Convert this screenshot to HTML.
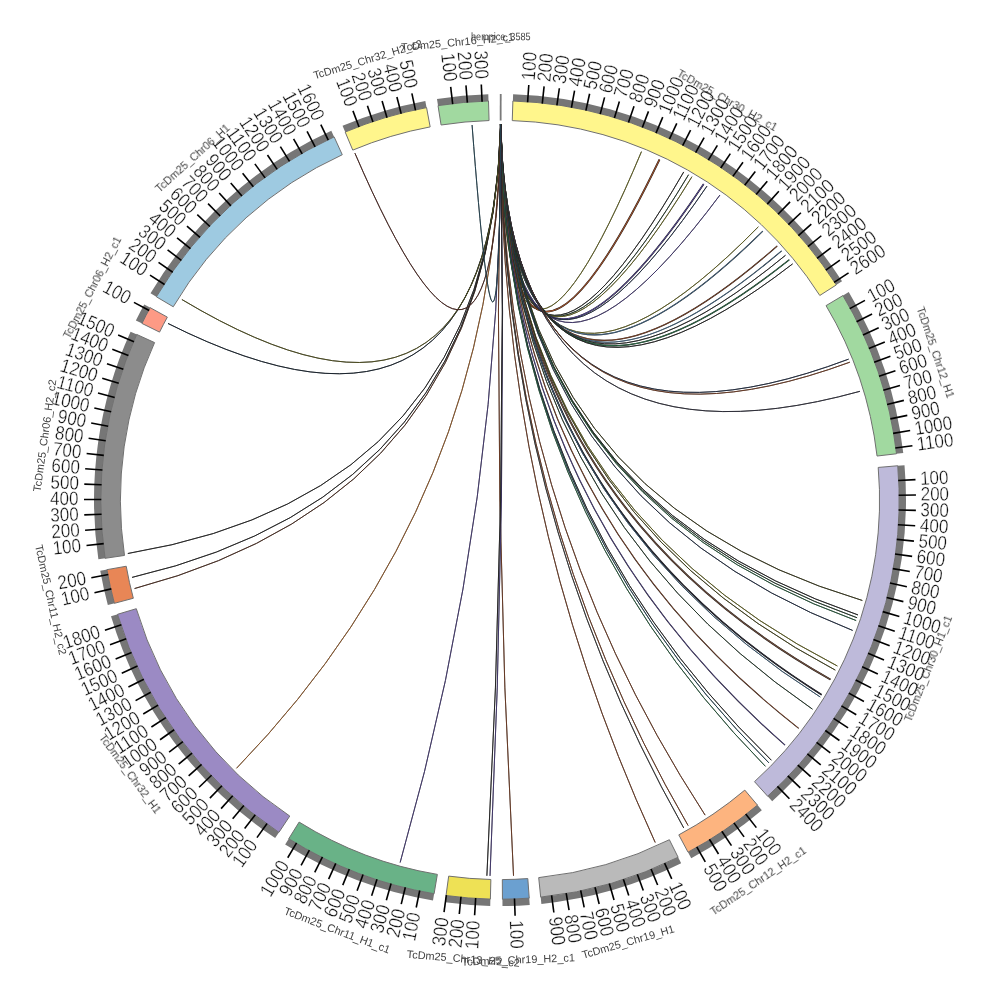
<!DOCTYPE html>
<html lang="en"><head><meta charset="utf-8"><title>Circos</title>
<style>
html,body{margin:0;padding:0;background:#fff;}
body{width:1000px;height:1000px;overflow:hidden;}
svg{display:block;}
.tl,.il{opacity:0.999}
.tl text{font-family:"Liberation Sans",sans-serif;font-size:19.4px;fill:#111;stroke:#fff;stroke-width:0.35px;}
.il text{font-family:"Liberation Sans",sans-serif;font-size:10.9px;fill:#424242;}
</style></head><body>
<svg width="1000" height="1000" viewBox="0 0 1000 1000">
<rect width="1000" height="1000" fill="#fff"/>
<g fill="none" stroke-linecap="butt">
<path d="M500.66,124.00Q503.85,480.30 641.46,151.63" stroke="#1c1c1c" stroke-width="1.00"/>
<path d="M500.66,124.00Q503.85,480.30 641.46,151.63" stroke="#8c8c28" stroke-width="0.60"/>
<path d="M500.66,124.00Q504.33,480.56 659.50,159.51" stroke="#1c1c1c" stroke-width="1.80"/>
<path d="M500.66,124.00Q504.33,480.56 659.50,159.51" stroke="#9a4e2a" stroke-width="1.08"/>
<path d="M500.66,124.00Q504.97,480.96 683.72,171.94" stroke="#1c1c1c" stroke-width="1.00"/>
<path d="M500.66,124.00Q504.97,480.96 683.72,171.94" stroke="#2e2e2e" stroke-width="0.60"/>
<path d="M500.66,124.00Q505.10,481.05 688.57,174.70" stroke="#1c1c1c" stroke-width="1.00"/>
<path d="M500.66,124.00Q505.10,481.05 688.57,174.70" stroke="#2c4a34" stroke-width="0.60"/>
<path d="M500.66,124.00Q505.18,481.12 691.96,176.70" stroke="#1c1c1c" stroke-width="1.00"/>
<path d="M500.66,124.00Q505.18,481.12 691.96,176.70" stroke="#8c8c28" stroke-width="0.60"/>
<path d="M500.66,124.00Q505.49,481.35 703.68,183.95" stroke="#1c1c1c" stroke-width="1.60"/>
<path d="M500.66,124.00Q505.49,481.35 703.68,183.95" stroke="#5a4aa0" stroke-width="0.96"/>
<path d="M500.66,124.00Q505.57,481.42 706.98,186.10" stroke="#1c1c1c" stroke-width="1.00"/>
<path d="M500.66,124.00Q505.57,481.42 706.98,186.10" stroke="#2a3a5a" stroke-width="0.60"/>
<path d="M500.66,124.00Q505.91,481.71 719.94,195.04" stroke="#1c1c1c" stroke-width="1.00"/>
<path d="M500.66,124.00Q505.91,481.71 719.94,195.04" stroke="#5a4aa0" stroke-width="0.60"/>
<path d="M500.66,124.00Q506.87,482.74 758.34,226.81" stroke="#1c1c1c" stroke-width="1.00"/>
<path d="M500.66,124.00Q506.87,482.74 758.34,226.81" stroke="#8c8c28" stroke-width="0.60"/>
<path d="M500.66,124.00Q506.98,482.88 762.84,231.13" stroke="#1c1c1c" stroke-width="1.20"/>
<path d="M500.66,124.00Q506.98,482.88 762.84,231.13" stroke="#4a78a0" stroke-width="0.72"/>
<path d="M500.66,124.00Q507.32,483.35 777.22,245.98" stroke="#1c1c1c" stroke-width="1.20"/>
<path d="M500.66,124.00Q507.32,483.35 777.22,245.98" stroke="#9a4e2a" stroke-width="0.72"/>
<path d="M500.66,124.00Q507.43,483.51 781.61,250.85" stroke="#1c1c1c" stroke-width="1.10"/>
<path d="M500.66,124.00Q507.43,483.51 781.61,250.85" stroke="#4a78a0" stroke-width="0.66"/>
<path d="M500.66,124.00Q507.52,483.65 785.49,255.31" stroke="#1c1c1c" stroke-width="1.00"/>
<path d="M500.66,124.00Q507.52,483.65 785.49,255.31" stroke="#2e2e2e" stroke-width="0.60"/>
<path d="M500.66,124.00Q507.61,483.80 789.29,259.82" stroke="#1c1c1c" stroke-width="1.40"/>
<path d="M500.66,124.00Q507.61,483.80 789.29,259.82" stroke="#2e7a4e" stroke-width="0.84"/>
<path d="M500.66,124.00Q507.68,483.93 792.62,263.89" stroke="#1c1c1c" stroke-width="1.00"/>
<path d="M500.66,124.00Q507.68,483.93 792.62,263.89" stroke="#2e2e2e" stroke-width="0.60"/>
<path d="M500.66,124.00Q508.79,486.96 848.62,359.15" stroke="#1c1c1c" stroke-width="1.00"/>
<path d="M500.66,124.00Q508.79,486.96 848.62,359.15" stroke="#2a3a5a" stroke-width="0.60"/>
<path d="M500.66,124.00Q508.81,487.06 849.84,362.20" stroke="#1c1c1c" stroke-width="1.00"/>
<path d="M500.66,124.00Q508.81,487.06 849.84,362.20" stroke="#9a4e2a" stroke-width="0.60"/>
<path d="M500.66,124.00Q508.93,487.97 859.95,391.32" stroke="#1c1c1c" stroke-width="1.00"/>
<path d="M500.66,124.00Q508.93,487.97 859.95,391.32" stroke="#3a3a4e" stroke-width="0.60"/>
<path d="M500.66,124.00Q507.44,494.34 862.33,600.48" stroke="#1c1c1c" stroke-width="1.00"/>
<path d="M500.66,124.00Q507.44,494.34 862.33,600.48" stroke="#4a4a20" stroke-width="0.60"/>
<path d="M500.66,124.00Q507.18,494.76 858.00,614.94" stroke="#1c1c1c" stroke-width="1.00"/>
<path d="M500.66,124.00Q507.18,494.76 858.00,614.94" stroke="#2e2e2e" stroke-width="0.60"/>
<path d="M500.66,124.00Q507.13,494.84 857.09,617.75" stroke="#1c1c1c" stroke-width="1.00"/>
<path d="M500.66,124.00Q507.13,494.84 857.09,617.75" stroke="#2c4a34" stroke-width="0.60"/>
<path d="M500.66,124.00Q507.08,494.92 856.15,620.55" stroke="#1c1c1c" stroke-width="1.00"/>
<path d="M500.66,124.00Q507.08,494.92 856.15,620.55" stroke="#2e7a4e" stroke-width="0.60"/>
<path d="M500.66,124.00Q506.88,495.21 852.65,630.45" stroke="#1c1c1c" stroke-width="1.00"/>
<path d="M500.66,124.00Q506.88,495.21 852.65,630.45" stroke="#2a3a5a" stroke-width="0.60"/>
<path d="M500.66,124.00Q506.08,496.22 837.37,666.01" stroke="#1c1c1c" stroke-width="1.00"/>
<path d="M500.66,124.00Q506.08,496.22 837.37,666.01" stroke="#8c8c28" stroke-width="0.60"/>
<path d="M500.66,124.00Q505.98,496.33 835.32,670.12" stroke="#1c1c1c" stroke-width="1.00"/>
<path d="M500.66,124.00Q505.98,496.33 835.32,670.12" stroke="#5a5a20" stroke-width="0.60"/>
<path d="M500.66,124.00Q505.73,496.59 830.44,679.41" stroke="#1c1c1c" stroke-width="1.80"/>
<path d="M500.66,124.00Q505.73,496.59 830.44,679.41" stroke="#6a4a3a" stroke-width="1.08"/>
<path d="M500.66,124.00Q505.31,497.01 821.62,694.78" stroke="#1c1c1c" stroke-width="1.60"/>
<path d="M500.66,124.00Q505.31,497.01 821.62,694.78" stroke="#2a2a38" stroke-width="0.96"/>
<path d="M500.66,124.00Q505.24,497.07 820.25,697.02" stroke="#1c1c1c" stroke-width="1.00"/>
<path d="M500.66,124.00Q505.24,497.07 820.25,697.02" stroke="#4a78a0" stroke-width="0.60"/>
<path d="M500.66,124.00Q504.87,497.40 812.45,709.17" stroke="#1c1c1c" stroke-width="1.00"/>
<path d="M500.66,124.00Q504.87,497.40 812.45,709.17" stroke="#2c4a34" stroke-width="0.60"/>
<path d="M500.66,124.00Q504.24,497.91 798.70,728.37" stroke="#1c1c1c" stroke-width="1.10"/>
<path d="M500.66,124.00Q504.24,497.91 798.70,728.37" stroke="#9a4e2a" stroke-width="0.66"/>
<path d="M500.66,124.00Q503.62,498.34 785.06,745.19" stroke="#1c1c1c" stroke-width="1.10"/>
<path d="M500.66,124.00Q503.62,498.34 785.06,745.19" stroke="#5a4aa0" stroke-width="0.66"/>
<path d="M500.66,124.00Q503.02,498.71 771.38,760.25" stroke="#1c1c1c" stroke-width="1.00"/>
<path d="M500.66,124.00Q503.02,498.71 771.38,760.25" stroke="#2e2e2e" stroke-width="0.60"/>
<path d="M500.66,124.00Q502.91,498.78 768.87,762.84" stroke="#1c1c1c" stroke-width="1.00"/>
<path d="M500.66,124.00Q502.91,498.78 768.87,762.84" stroke="#2a5a70" stroke-width="0.60"/>
<path d="M500.66,124.00Q502.76,498.86 765.41,766.34" stroke="#1c1c1c" stroke-width="1.00"/>
<path d="M500.66,124.00Q502.76,498.86 765.41,766.34" stroke="#2e7a4e" stroke-width="0.60"/>
<path d="M500.66,124.00Q500.20,499.94 705.11,815.13" stroke="#1c1c1c" stroke-width="1.00"/>
<path d="M500.66,124.00Q500.20,499.94 705.11,815.13" stroke="#9a4e2a" stroke-width="0.60"/>
<path d="M500.66,124.00Q499.50,500.13 688.11,825.56" stroke="#1c1c1c" stroke-width="1.00"/>
<path d="M500.66,124.00Q499.50,500.13 688.11,825.56" stroke="#9a4e2a" stroke-width="0.60"/>
<path d="M500.66,124.00Q499.32,500.18 683.78,828.03" stroke="#1c1c1c" stroke-width="1.00"/>
<path d="M500.66,124.00Q499.32,500.18 683.78,828.03" stroke="#444" stroke-width="0.60"/>
<path d="M500.66,124.00Q498.16,500.40 655.21,842.47" stroke="#1c1c1c" stroke-width="1.00"/>
<path d="M500.66,124.00Q498.16,500.40 655.21,842.47" stroke="#9a4e2a" stroke-width="0.60"/>
<path d="M500.66,124.00Q492.61,500.13 513.52,875.76" stroke="#1c1c1c" stroke-width="1.00"/>
<path d="M500.66,124.00Q492.61,500.13 513.52,875.76" stroke="#9a4e2a" stroke-width="0.60"/>
<path d="M500.66,124.00Q507.52,500.10 490.03,875.87" stroke="#1c1c1c" stroke-width="1.00"/>
<path d="M500.66,124.00Q507.52,500.10 490.03,875.87" stroke="#5a4aa0" stroke-width="0.60"/>
<path d="M500.66,124.00Q507.40,500.13 486.88,875.77" stroke="#1c1c1c" stroke-width="1.00"/>
<path d="M500.66,124.00Q507.40,500.13 486.88,875.77" stroke="#2e2e2e" stroke-width="0.60"/>
<path d="M500.66,124.00Q504.04,500.55 400.15,862.50" stroke="#1c1c1c" stroke-width="1.00"/>
<path d="M500.66,124.00Q504.04,500.55 400.15,862.50" stroke="#5a4aa0" stroke-width="0.60"/>
<path d="M500.66,124.00Q497.33,498.91 236.55,768.27" stroke="#1c1c1c" stroke-width="1.00"/>
<path d="M500.66,124.00Q497.33,498.91 236.55,768.27" stroke="#d07a30" stroke-width="0.60"/>
<path d="M500.66,124.00Q492.36,493.99 134.57,588.54" stroke="#1c1c1c" stroke-width="1.00"/>
<path d="M500.66,124.00Q492.36,493.99 134.57,588.54" stroke="#6a3a28" stroke-width="0.60"/>
<path d="M500.66,124.00Q492.19,493.66 132.05,577.40" stroke="#1c1c1c" stroke-width="1.00"/>
<path d="M500.66,124.00Q492.19,493.66 132.05,577.40" stroke="#2e2e2e" stroke-width="0.60"/>
<path d="M500.66,124.00Q491.87,492.95 127.83,553.50" stroke="#1c1c1c" stroke-width="1.00"/>
<path d="M500.66,124.00Q491.87,492.95 127.83,553.50" stroke="#2e2e2e" stroke-width="0.60"/>
<path d="M500.66,124.00Q491.49,485.83 168.01,323.48" stroke="#1c1c1c" stroke-width="1.00"/>
<path d="M500.66,124.00Q491.49,485.83 168.01,323.48" stroke="#1a2a3a" stroke-width="0.60"/>
<path d="M500.66,124.00Q491.76,485.07 181.90,299.53" stroke="#1c1c1c" stroke-width="1.00"/>
<path d="M500.66,124.00Q491.76,485.07 181.90,299.53" stroke="#6a6a20" stroke-width="0.60"/>
<path d="M500.66,124.00Q496.06,480.35 354.90,153.13" stroke="#1c1c1c" stroke-width="1.00"/>
<path d="M500.66,124.00Q496.06,480.35 354.90,153.13" stroke="#6a3028" stroke-width="0.60"/>
<path d="M500.66,124.00Q499.24,479.43 472.07,125.04" stroke="#1c1c1c" stroke-width="1.00"/>
<path d="M500.66,124.00Q499.24,479.43 472.07,125.04" stroke="#2a5a70" stroke-width="0.60"/>
</g>
<line x1="500.66" y1="120.40" x2="500.71" y2="94.00" stroke="#7a7a7a" stroke-width="1.8"/>
<path d="M513.11,94.21A406.00,406.00 0 0 1 842.04,281.26L836.05,285.08A398.90,398.90 0 0 0 512.88,101.31Z" fill="#767676"/>
<path d="M512.89,101.01A399.20,399.20 0 0 1 836.31,284.92L819.79,295.48A379.60,379.60 0 0 0 512.25,120.60Z" fill="#FFF68C" stroke="#707070" stroke-width="1" stroke-linejoin="miter"/>
<path d="M848.74,292.11A406.00,406.00 0 0 1 903.27,452.98L896.22,453.81A398.90,398.90 0 0 0 842.64,295.75Z" fill="#767676"/>
<path d="M842.90,295.59A399.20,399.20 0 0 1 896.51,453.77L877.05,456.04A379.60,379.60 0 0 0 826.06,305.63Z" fill="#A1D9A0" stroke="#707070" stroke-width="1" stroke-linejoin="miter"/>
<path d="M904.50,465.18A406.00,406.00 0 0 1 772.19,801.24L767.43,795.97A398.90,398.90 0 0 0 897.43,465.79Z" fill="#767676"/>
<path d="M897.73,465.76A399.20,399.20 0 0 1 767.63,796.20L754.49,781.65A379.60,379.60 0 0 0 878.20,467.44Z" fill="#BEBADA" stroke="#707070" stroke-width="1" stroke-linejoin="miter"/>
<path d="M761.84,810.28A406.00,406.00 0 0 1 691.23,858.14L687.89,851.88A398.90,398.90 0 0 0 757.26,804.86Z" fill="#767676"/>
<path d="M757.45,805.09A399.20,399.20 0 0 1 688.03,852.15L678.80,834.86A379.60,379.60 0 0 0 744.81,790.11Z" fill="#FDB47F" stroke="#707070" stroke-width="1" stroke-linejoin="miter"/>
<path d="M681.16,863.34A406.00,406.00 0 0 1 541.38,903.89L540.66,896.82A398.90,398.90 0 0 0 677.99,856.99Z" fill="#767676"/>
<path d="M678.12,857.26A399.20,399.20 0 0 1 540.69,897.12L538.69,877.62A379.60,379.60 0 0 0 669.38,839.72Z" fill="#BABABA" stroke="#707070" stroke-width="1" stroke-linejoin="miter"/>
<path d="M529.73,904.91A406.00,406.00 0 0 1 502.48,905.99L502.44,898.89A398.90,398.90 0 0 0 529.21,897.83Z" fill="#767676"/>
<path d="M529.24,898.13A399.20,399.20 0 0 1 502.44,899.19L502.32,879.59A379.60,379.60 0 0 0 527.80,878.58Z" fill="#6BA0D0" stroke="#707070" stroke-width="1" stroke-linejoin="miter"/>
<path d="M490.22,905.88A406.00,406.00 0 0 1 445.11,902.27L446.07,895.24A398.90,398.90 0 0 0 490.39,898.78Z" fill="#767676"/>
<path d="M490.39,899.08A399.20,399.20 0 0 1 446.03,895.53L448.68,876.11A379.60,379.60 0 0 0 490.86,879.49Z" fill="#EEE155" stroke="#707070" stroke-width="1" stroke-linejoin="miter"/>
<path d="M432.99,900.43A406.00,406.00 0 0 1 285.15,844.50L288.91,838.47A398.90,398.90 0 0 0 434.16,893.43Z" fill="#767676"/>
<path d="M434.11,893.73A399.20,399.20 0 0 1 288.75,838.73L299.12,822.09A379.60,379.60 0 0 0 437.35,874.39Z" fill="#69B287" stroke="#707070" stroke-width="1" stroke-linejoin="miter"/>
<path d="M275.15,838.05A406.00,406.00 0 0 1 111.00,616.26L117.80,614.23A398.90,398.90 0 0 0 279.08,832.14Z" fill="#767676"/>
<path d="M278.91,832.39A399.20,399.20 0 0 1 117.52,614.31L136.30,608.70A379.60,379.60 0 0 0 289.77,816.07Z" fill="#9B8AC4" stroke="#707070" stroke-width="1" stroke-linejoin="miter"/>
<path d="M107.83,605.08A406.00,406.00 0 0 1 100.23,570.85L107.22,569.61A398.90,398.90 0 0 0 114.69,603.24Z" fill="#767676"/>
<path d="M114.40,603.32A399.20,399.20 0 0 1 106.93,569.66L126.22,566.24A379.60,379.60 0 0 0 133.33,598.25Z" fill="#E88656" stroke="#707070" stroke-width="1" stroke-linejoin="miter"/>
<path d="M98.36,559.31A406.00,406.00 0 0 1 130.56,331.63L137.02,334.58A398.90,398.90 0 0 0 105.38,558.27Z" fill="#767676"/>
<path d="M105.08,558.32A399.20,399.20 0 0 1 136.74,334.45L154.58,342.58A379.60,379.60 0 0 0 124.47,555.45Z" fill="#8C8C8C" stroke="#707070" stroke-width="1" stroke-linejoin="miter"/>
<path d="M135.87,320.43A406.00,406.00 0 0 1 144.22,304.41L150.44,307.83A398.90,398.90 0 0 0 142.24,323.57Z" fill="#767676"/>
<path d="M141.97,323.44A399.20,399.20 0 0 1 150.18,307.68L167.35,317.13A379.60,379.60 0 0 0 159.55,332.11Z" fill="#FD9A85" stroke="#707070" stroke-width="1" stroke-linejoin="miter"/>
<path d="M150.54,293.33A406.00,406.00 0 0 1 331.31,130.70L334.26,137.16A398.90,398.90 0 0 0 156.65,296.94Z" fill="#767676"/>
<path d="M156.39,296.79A399.20,399.20 0 0 1 334.14,136.89L342.28,154.72A379.60,379.60 0 0 0 173.26,306.77Z" fill="#9ECAE1" stroke="#707070" stroke-width="1" stroke-linejoin="miter"/>
<path d="M342.54,125.78A406.00,406.00 0 0 1 425.32,100.93L426.62,107.91A398.90,398.90 0 0 0 345.29,132.32Z" fill="#767676"/>
<path d="M345.18,132.05A399.20,399.20 0 0 1 426.57,107.61L430.17,126.88A379.60,379.60 0 0 0 352.78,150.11Z" fill="#FFF68C" stroke="#707070" stroke-width="1" stroke-linejoin="miter"/>
<path d="M436.98,98.92A406.00,406.00 0 0 1 488.31,94.17L488.51,101.27A398.90,398.90 0 0 0 438.08,105.94Z" fill="#767676"/>
<path d="M438.03,105.64A399.20,399.20 0 0 1 488.51,100.97L489.07,120.56A379.60,379.60 0 0 0 441.08,125.00Z" fill="#A1D9A0" stroke="#707070" stroke-width="1" stroke-linejoin="miter"/>
<g stroke="#000" stroke-width="1.6">
<line x1="527.59" y1="102.26" x2="528.79" y2="85.00"/>
<line x1="542.27" y1="103.55" x2="544.10" y2="86.34"/>
<line x1="556.89" y1="105.38" x2="559.36" y2="88.26"/>
<line x1="571.44" y1="107.75" x2="574.54" y2="90.73"/>
<line x1="585.89" y1="110.66" x2="589.61" y2="93.77"/>
<line x1="600.22" y1="114.10" x2="604.57" y2="97.36"/>
<line x1="614.41" y1="118.07" x2="619.38" y2="101.50"/>
<line x1="628.45" y1="122.56" x2="634.02" y2="106.18"/>
<line x1="642.31" y1="127.56" x2="648.48" y2="111.40"/>
<line x1="655.98" y1="133.08" x2="662.74" y2="117.16"/>
<line x1="669.43" y1="139.09" x2="676.78" y2="123.43"/>
<line x1="682.65" y1="145.60" x2="690.58" y2="130.22"/>
<line x1="695.63" y1="152.59" x2="704.11" y2="137.52"/>
<line x1="708.33" y1="160.06" x2="717.37" y2="145.31"/>
<line x1="720.75" y1="167.99" x2="730.33" y2="153.59"/>
<line x1="732.87" y1="176.38" x2="742.98" y2="162.33"/>
<line x1="744.67" y1="185.20" x2="755.29" y2="171.54"/>
<line x1="756.14" y1="194.46" x2="767.26" y2="181.20"/>
<line x1="767.26" y1="204.14" x2="778.85" y2="191.30"/>
<line x1="778.01" y1="214.22" x2="790.07" y2="201.82"/>
<line x1="788.38" y1="224.69" x2="800.89" y2="212.74"/>
<line x1="798.36" y1="235.53" x2="811.31" y2="224.06"/>
<line x1="807.93" y1="246.74" x2="821.29" y2="235.75"/>
<line x1="817.08" y1="258.29" x2="830.84" y2="247.80"/>
<line x1="825.80" y1="270.18" x2="839.93" y2="260.20"/>
<line x1="834.07" y1="282.37" x2="848.56" y2="272.93"/>
<line x1="849.78" y1="308.64" x2="864.96" y2="300.34"/>
<line x1="856.61" y1="321.70" x2="872.09" y2="313.97"/>
<line x1="862.96" y1="335.00" x2="878.71" y2="327.84"/>
<line x1="868.81" y1="348.53" x2="884.81" y2="341.96"/>
<line x1="874.15" y1="362.26" x2="890.39" y2="356.29"/>
<line x1="878.99" y1="376.19" x2="895.43" y2="370.81"/>
<line x1="883.30" y1="390.28" x2="899.94" y2="385.52"/>
<line x1="887.10" y1="404.52" x2="903.89" y2="400.38"/>
<line x1="890.36" y1="418.89" x2="907.30" y2="415.37"/>
<line x1="893.09" y1="433.37" x2="910.15" y2="430.48"/>
<line x1="895.29" y1="447.95" x2="912.44" y2="445.69"/>
<line x1="898.22" y1="480.51" x2="915.50" y2="479.66"/>
<line x1="898.67" y1="495.24" x2="915.97" y2="495.03"/>
<line x1="898.58" y1="509.98" x2="915.87" y2="510.41"/>
<line x1="897.93" y1="524.70" x2="915.20" y2="525.77"/>
<line x1="896.75" y1="539.39" x2="913.96" y2="541.10"/>
<line x1="895.02" y1="554.03" x2="912.16" y2="556.37"/>
<line x1="892.76" y1="568.59" x2="909.80" y2="571.57"/>
<line x1="889.95" y1="583.06" x2="906.87" y2="586.66"/>
<line x1="886.62" y1="597.41" x2="903.39" y2="601.64"/>
<line x1="882.75" y1="611.63" x2="899.36" y2="616.48"/>
<line x1="878.37" y1="625.70" x2="894.78" y2="631.16"/>
<line x1="873.46" y1="639.60" x2="889.67" y2="645.66"/>
<line x1="868.05" y1="653.31" x2="884.02" y2="659.96"/>
<line x1="862.13" y1="666.81" x2="877.84" y2="674.04"/>
<line x1="855.72" y1="680.08" x2="871.15" y2="687.89"/>
<line x1="848.82" y1="693.10" x2="863.95" y2="701.48"/>
<line x1="841.44" y1="705.86" x2="856.26" y2="714.79"/>
<line x1="833.60" y1="718.34" x2="848.08" y2="727.81"/>
<line x1="825.31" y1="730.52" x2="839.42" y2="740.52"/>
<line x1="816.56" y1="742.38" x2="830.30" y2="752.90"/>
<line x1="807.39" y1="753.92" x2="820.73" y2="764.93"/>
<line x1="797.80" y1="765.10" x2="810.72" y2="776.61"/>
<line x1="787.79" y1="775.93" x2="800.28" y2="787.90"/>
<line x1="777.40" y1="786.38" x2="789.44" y2="798.80"/>
<line x1="745.69" y1="814.00" x2="756.36" y2="827.62"/>
<line x1="733.92" y1="822.87" x2="744.07" y2="836.88"/>
<line x1="721.83" y1="831.29" x2="731.46" y2="845.67"/>
<line x1="709.43" y1="839.26" x2="718.52" y2="853.98"/>
<line x1="696.75" y1="846.77" x2="705.29" y2="861.82"/>
<line x1="664.59" y1="863.14" x2="671.73" y2="878.90"/>
<line x1="651.06" y1="868.98" x2="657.61" y2="884.99"/>
<line x1="637.32" y1="874.31" x2="643.28" y2="890.55"/>
<line x1="623.39" y1="879.13" x2="628.74" y2="895.58"/>
<line x1="609.29" y1="883.43" x2="614.04" y2="900.06"/>
<line x1="595.05" y1="887.20" x2="599.17" y2="904.01"/>
<line x1="580.67" y1="890.45" x2="584.17" y2="907.39"/>
<line x1="566.19" y1="893.17" x2="569.06" y2="910.23"/>
<line x1="551.61" y1="895.35" x2="553.85" y2="912.50"/>
<line x1="514.48" y1="898.44" x2="515.11" y2="915.73"/>
<line x1="475.67" y1="897.96" x2="474.62" y2="915.22"/>
<line x1="460.98" y1="896.79" x2="459.29" y2="914.00"/>
<line x1="446.35" y1="895.07" x2="444.02" y2="912.22"/>
<line x1="419.71" y1="890.53" x2="416.22" y2="907.48"/>
<line x1="405.33" y1="887.30" x2="401.22" y2="904.10"/>
<line x1="391.08" y1="883.53" x2="386.35" y2="900.18"/>
<line x1="376.98" y1="879.25" x2="371.64" y2="895.70"/>
<line x1="363.05" y1="874.44" x2="357.11" y2="890.69"/>
<line x1="349.30" y1="869.12" x2="342.76" y2="885.14"/>
<line x1="335.76" y1="863.30" x2="328.64" y2="879.07"/>
<line x1="322.45" y1="856.98" x2="314.75" y2="872.47"/>
<line x1="309.38" y1="850.18" x2="301.11" y2="865.37"/>
<line x1="296.57" y1="842.89" x2="287.74" y2="857.77"/>
<line x1="267.07" y1="823.58" x2="256.96" y2="837.62"/>
<line x1="255.27" y1="814.75" x2="244.65" y2="828.41"/>
<line x1="243.81" y1="805.49" x2="232.69" y2="818.75"/>
<line x1="232.69" y1="795.82" x2="221.09" y2="808.65"/>
<line x1="221.94" y1="785.74" x2="209.88" y2="798.13"/>
<line x1="211.57" y1="775.26" x2="199.06" y2="787.21"/>
<line x1="201.59" y1="764.42" x2="188.65" y2="775.89"/>
<line x1="192.03" y1="753.21" x2="178.66" y2="764.19"/>
<line x1="182.88" y1="741.65" x2="169.12" y2="752.14"/>
<line x1="174.16" y1="729.77" x2="160.03" y2="739.74"/>
<line x1="165.90" y1="717.57" x2="151.40" y2="727.01"/>
<line x1="158.08" y1="705.07" x2="143.25" y2="713.97"/>
<line x1="150.74" y1="692.29" x2="135.58" y2="700.64"/>
<line x1="143.87" y1="679.26" x2="128.42" y2="687.03"/>
<line x1="137.49" y1="665.97" x2="121.76" y2="673.17"/>
<line x1="131.60" y1="652.46" x2="115.62" y2="659.08"/>
<line x1="126.22" y1="638.74" x2="110.00" y2="644.76"/>
<line x1="121.35" y1="624.83" x2="104.92" y2="630.25"/>
<line x1="111.33" y1="588.89" x2="94.47" y2="592.74"/>
<line x1="108.32" y1="574.46" x2="91.32" y2="577.69"/>
<line x1="103.69" y1="543.63" x2="86.50" y2="545.52"/>
<line x1="102.35" y1="528.95" x2="85.10" y2="530.21"/>
<line x1="101.55" y1="514.23" x2="84.27" y2="514.85"/>
<line x1="101.30" y1="499.50" x2="84.00" y2="499.48"/>
<line x1="101.59" y1="484.76" x2="84.30" y2="484.10"/>
<line x1="102.43" y1="470.05" x2="85.18" y2="468.75"/>
<line x1="103.80" y1="455.38" x2="86.61" y2="453.44"/>
<line x1="105.72" y1="440.77" x2="88.62" y2="438.20"/>
<line x1="108.18" y1="426.23" x2="91.18" y2="423.03"/>
<line x1="111.18" y1="411.80" x2="94.31" y2="407.98"/>
<line x1="114.70" y1="397.49" x2="97.98" y2="393.05"/>
<line x1="118.75" y1="383.32" x2="102.21" y2="378.26"/>
<line x1="123.33" y1="369.31" x2="106.98" y2="363.64"/>
<line x1="128.41" y1="355.48" x2="112.29" y2="349.21"/>
<line x1="134.01" y1="341.85" x2="118.13" y2="334.99"/>
<line x1="149.18" y1="310.56" x2="133.96" y2="302.34"/>
<line x1="164.56" y1="284.50" x2="150.00" y2="275.15"/>
<line x1="172.75" y1="272.25" x2="158.55" y2="262.37"/>
<line x1="181.39" y1="260.31" x2="167.57" y2="249.91"/>
<line x1="190.47" y1="248.70" x2="177.04" y2="237.80"/>
<line x1="199.97" y1="237.43" x2="186.95" y2="226.04"/>
<line x1="209.88" y1="226.52" x2="197.29" y2="214.66"/>
<line x1="220.18" y1="215.99" x2="208.04" y2="203.66"/>
<line x1="230.87" y1="205.84" x2="219.19" y2="193.08"/>
<line x1="241.92" y1="196.10" x2="230.73" y2="182.91"/>
<line x1="253.33" y1="186.76" x2="242.63" y2="173.17"/>
<line x1="265.08" y1="177.86" x2="254.88" y2="163.88"/>
<line x1="277.14" y1="169.40" x2="267.47" y2="155.06"/>
<line x1="289.51" y1="161.39" x2="280.38" y2="146.70"/>
<line x1="302.17" y1="153.84" x2="293.59" y2="138.82"/>
<line x1="315.10" y1="146.77" x2="307.08" y2="131.44"/>
<line x1="328.28" y1="140.18" x2="320.83" y2="124.56"/>
<line x1="359.06" y1="127.04" x2="352.94" y2="110.86"/>
<line x1="372.94" y1="122.09" x2="367.42" y2="105.69"/>
<line x1="386.99" y1="117.65" x2="382.09" y2="101.06"/>
<line x1="401.20" y1="113.74" x2="396.91" y2="96.98"/>
<line x1="415.54" y1="110.35" x2="411.88" y2="93.44"/>
<line x1="452.71" y1="104.11" x2="450.66" y2="86.94"/>
<line x1="467.37" y1="102.64" x2="465.96" y2="85.40"/>
<line x1="482.08" y1="101.70" x2="481.30" y2="84.42"/>
</g>
<g class="tl">
<text transform="translate(529.11,80.41) rotate(-86.03) scale(0.88,1)" text-anchor="start" dy="0.29em">100</text>
<text transform="translate(544.59,81.77) rotate(-83.91) scale(0.88,1)" text-anchor="start" dy="0.29em">200</text>
<text transform="translate(560.02,83.70) rotate(-81.80) scale(0.88,1)" text-anchor="start" dy="0.29em">300</text>
<text transform="translate(575.36,86.21) rotate(-79.68) scale(0.88,1)" text-anchor="start" dy="0.29em">400</text>
<text transform="translate(590.60,89.27) rotate(-77.56) scale(0.88,1)" text-anchor="start" dy="0.29em">500</text>
<text transform="translate(605.72,92.90) rotate(-75.44) scale(0.88,1)" text-anchor="start" dy="0.29em">600</text>
<text transform="translate(620.70,97.09) rotate(-73.32) scale(0.88,1)" text-anchor="start" dy="0.29em">700</text>
<text transform="translate(635.50,101.83) rotate(-71.21) scale(0.88,1)" text-anchor="start" dy="0.29em">800</text>
<text transform="translate(650.13,107.11) rotate(-69.09) scale(0.88,1)" text-anchor="start" dy="0.29em">900</text>
<text transform="translate(664.54,112.92) rotate(-66.97) scale(0.88,1)" text-anchor="start" dy="0.29em">1000</text>
<text transform="translate(678.74,119.27) rotate(-64.85) scale(0.88,1)" text-anchor="start" dy="0.29em">1100</text>
<text transform="translate(692.69,126.13) rotate(-62.73) scale(0.88,1)" text-anchor="start" dy="0.29em">1200</text>
<text transform="translate(706.37,133.51) rotate(-60.62) scale(0.88,1)" text-anchor="start" dy="0.29em">1300</text>
<text transform="translate(719.78,141.39) rotate(-58.50) scale(0.88,1)" text-anchor="start" dy="0.29em">1400</text>
<text transform="translate(732.88,149.75) rotate(-56.38) scale(0.88,1)" text-anchor="start" dy="0.29em">1500</text>
<text transform="translate(745.66,158.60) rotate(-54.26) scale(0.88,1)" text-anchor="start" dy="0.29em">1600</text>
<text transform="translate(758.11,167.91) rotate(-52.14) scale(0.88,1)" text-anchor="start" dy="0.29em">1700</text>
<text transform="translate(770.21,177.68) rotate(-50.03) scale(0.88,1)" text-anchor="start" dy="0.29em">1800</text>
<text transform="translate(781.94,187.89) rotate(-47.91) scale(0.88,1)" text-anchor="start" dy="0.29em">1900</text>
<text transform="translate(793.28,198.52) rotate(-45.79) scale(0.88,1)" text-anchor="start" dy="0.29em">2000</text>
<text transform="translate(804.22,209.56) rotate(-43.67) scale(0.88,1)" text-anchor="start" dy="0.29em">2100</text>
<text transform="translate(814.75,221.01) rotate(-41.55) scale(0.88,1)" text-anchor="start" dy="0.29em">2200</text>
<text transform="translate(824.84,232.83) rotate(-39.44) scale(0.88,1)" text-anchor="start" dy="0.29em">2300</text>
<text transform="translate(834.50,245.02) rotate(-37.32) scale(0.88,1)" text-anchor="start" dy="0.29em">2400</text>
<text transform="translate(843.69,257.55) rotate(-35.20) scale(0.88,1)" text-anchor="start" dy="0.29em">2500</text>
<text transform="translate(852.42,270.42) rotate(-33.08) scale(0.88,1)" text-anchor="start" dy="0.29em">2600</text>
<text transform="translate(868.99,298.13) rotate(-28.68) scale(0.88,1)" text-anchor="start" dy="0.29em">100</text>
<text transform="translate(876.20,311.91) rotate(-26.56) scale(0.88,1)" text-anchor="start" dy="0.29em">200</text>
<text transform="translate(882.89,325.94) rotate(-24.45) scale(0.88,1)" text-anchor="start" dy="0.29em">300</text>
<text transform="translate(889.07,340.21) rotate(-22.33) scale(0.88,1)" text-anchor="start" dy="0.29em">400</text>
<text transform="translate(894.70,354.70) rotate(-20.21) scale(0.88,1)" text-anchor="start" dy="0.29em">500</text>
<text transform="translate(899.81,369.39) rotate(-18.09) scale(0.88,1)" text-anchor="start" dy="0.29em">600</text>
<text transform="translate(904.36,384.25) rotate(-15.97) scale(0.88,1)" text-anchor="start" dy="0.29em">700</text>
<text transform="translate(908.36,399.27) rotate(-13.86) scale(0.88,1)" text-anchor="start" dy="0.29em">800</text>
<text transform="translate(911.80,414.43) rotate(-11.74) scale(0.88,1)" text-anchor="start" dy="0.29em">900</text>
<text transform="translate(914.69,429.71) rotate(-9.62) scale(0.88,1)" text-anchor="start" dy="0.29em">1000</text>
<text transform="translate(917.00,445.09) rotate(-7.50) scale(0.88,1)" text-anchor="start" dy="0.29em">1100</text>
<text transform="translate(920.10,479.44) rotate(-2.80) scale(0.88,1)" text-anchor="start" dy="0.29em">100</text>
<text transform="translate(920.57,494.98) rotate(-0.68) scale(0.88,1)" text-anchor="start" dy="0.29em">200</text>
<text transform="translate(920.47,510.53) rotate(1.43) scale(0.88,1)" text-anchor="start" dy="0.29em">300</text>
<text transform="translate(919.79,526.06) rotate(3.55) scale(0.88,1)" text-anchor="start" dy="0.29em">400</text>
<text transform="translate(918.54,541.55) rotate(5.67) scale(0.88,1)" text-anchor="start" dy="0.29em">500</text>
<text transform="translate(916.72,556.99) rotate(7.79) scale(0.88,1)" text-anchor="start" dy="0.29em">600</text>
<text transform="translate(914.33,572.36) rotate(9.91) scale(0.88,1)" text-anchor="start" dy="0.29em">700</text>
<text transform="translate(911.37,587.62) rotate(12.02) scale(0.88,1)" text-anchor="start" dy="0.29em">800</text>
<text transform="translate(907.85,602.76) rotate(14.14) scale(0.88,1)" text-anchor="start" dy="0.29em">900</text>
<text transform="translate(903.78,617.77) rotate(16.26) scale(0.88,1)" text-anchor="start" dy="0.29em">1000</text>
<text transform="translate(899.15,632.61) rotate(18.38) scale(0.88,1)" text-anchor="start" dy="0.29em">1100</text>
<text transform="translate(893.97,647.27) rotate(20.50) scale(0.88,1)" text-anchor="start" dy="0.29em">1200</text>
<text transform="translate(888.26,661.73) rotate(22.61) scale(0.88,1)" text-anchor="start" dy="0.29em">1300</text>
<text transform="translate(882.02,675.97) rotate(24.73) scale(0.88,1)" text-anchor="start" dy="0.29em">1400</text>
<text transform="translate(875.26,689.97) rotate(26.85) scale(0.88,1)" text-anchor="start" dy="0.29em">1500</text>
<text transform="translate(867.98,703.71) rotate(28.97) scale(0.88,1)" text-anchor="start" dy="0.29em">1600</text>
<text transform="translate(860.20,717.17) rotate(31.09) scale(0.88,1)" text-anchor="start" dy="0.29em">1700</text>
<text transform="translate(851.93,730.33) rotate(33.20) scale(0.88,1)" text-anchor="start" dy="0.29em">1800</text>
<text transform="translate(843.17,743.18) rotate(35.32) scale(0.88,1)" text-anchor="start" dy="0.29em">1900</text>
<text transform="translate(833.95,755.70) rotate(37.44) scale(0.88,1)" text-anchor="start" dy="0.29em">2000</text>
<text transform="translate(824.27,767.86) rotate(39.56) scale(0.88,1)" text-anchor="start" dy="0.29em">2100</text>
<text transform="translate(814.15,779.66) rotate(41.68) scale(0.88,1)" text-anchor="start" dy="0.29em">2200</text>
<text transform="translate(803.60,791.08) rotate(43.79) scale(0.88,1)" text-anchor="start" dy="0.29em">2300</text>
<text transform="translate(792.64,802.11) rotate(45.91) scale(0.88,1)" text-anchor="start" dy="0.29em">2400</text>
<text transform="translate(759.19,831.25) rotate(51.96) scale(0.88,1)" text-anchor="start" dy="0.29em">100</text>
<text transform="translate(746.77,840.60) rotate(54.08) scale(0.88,1)" text-anchor="start" dy="0.29em">200</text>
<text transform="translate(734.01,849.49) rotate(56.19) scale(0.88,1)" text-anchor="start" dy="0.29em">300</text>
<text transform="translate(720.94,857.90) rotate(58.31) scale(0.88,1)" text-anchor="start" dy="0.29em">400</text>
<text transform="translate(707.56,865.82) rotate(60.43) scale(0.88,1)" text-anchor="start" dy="0.29em">500</text>
<text transform="translate(673.63,883.09) rotate(65.62) scale(0.88,1)" text-anchor="start" dy="0.29em">100</text>
<text transform="translate(659.35,889.24) rotate(67.74) scale(0.88,1)" text-anchor="start" dy="0.29em">200</text>
<text transform="translate(644.86,894.87) rotate(69.85) scale(0.88,1)" text-anchor="start" dy="0.29em">300</text>
<text transform="translate(630.17,899.95) rotate(71.97) scale(0.88,1)" text-anchor="start" dy="0.29em">400</text>
<text transform="translate(615.30,904.49) rotate(74.09) scale(0.88,1)" text-anchor="start" dy="0.29em">500</text>
<text transform="translate(600.27,908.47) rotate(76.21) scale(0.88,1)" text-anchor="start" dy="0.29em">600</text>
<text transform="translate(585.11,911.90) rotate(78.33) scale(0.88,1)" text-anchor="start" dy="0.29em">700</text>
<text transform="translate(569.82,914.76) rotate(80.44) scale(0.88,1)" text-anchor="start" dy="0.29em">800</text>
<text transform="translate(554.45,917.06) rotate(82.56) scale(0.88,1)" text-anchor="start" dy="0.29em">900</text>
<text transform="translate(515.28,920.32) rotate(87.92) scale(0.88,1)" text-anchor="start" dy="0.29em">100</text>
<text transform="translate(474.29,920.61) rotate(273.50) scale(0.88,1)" text-anchor="end" dy="0.29em">100</text>
<text transform="translate(458.76,919.38) rotate(275.62) scale(0.88,1)" text-anchor="end" dy="0.29em">200</text>
<text transform="translate(443.29,917.57) rotate(277.73) scale(0.88,1)" text-anchor="end" dy="0.29em">300</text>
<text transform="translate(415.14,912.77) rotate(281.62) scale(0.88,1)" text-anchor="end" dy="0.29em">100</text>
<text transform="translate(399.94,909.35) rotate(283.74) scale(0.88,1)" text-anchor="end" dy="0.29em">200</text>
<text transform="translate(384.88,905.37) rotate(285.85) scale(0.88,1)" text-anchor="end" dy="0.29em">300</text>
<text transform="translate(369.98,900.84) rotate(287.97) scale(0.88,1)" text-anchor="end" dy="0.29em">400</text>
<text transform="translate(355.25,895.76) rotate(290.09) scale(0.88,1)" text-anchor="end" dy="0.29em">500</text>
<text transform="translate(340.72,890.14) rotate(292.21) scale(0.88,1)" text-anchor="end" dy="0.29em">600</text>
<text transform="translate(326.41,883.99) rotate(294.33) scale(0.88,1)" text-anchor="end" dy="0.29em">700</text>
<text transform="translate(312.34,877.31) rotate(296.44) scale(0.88,1)" text-anchor="end" dy="0.29em">800</text>
<text transform="translate(298.52,870.12) rotate(298.56) scale(0.88,1)" text-anchor="end" dy="0.29em">900</text>
<text transform="translate(284.98,862.42) rotate(300.68) scale(0.88,1)" text-anchor="end" dy="0.29em">1000</text>
<text transform="translate(253.81,842.01) rotate(305.75) scale(0.88,1)" text-anchor="end" dy="0.29em">100</text>
<text transform="translate(241.34,832.67) rotate(307.87) scale(0.88,1)" text-anchor="end" dy="0.29em">200</text>
<text transform="translate(229.22,822.89) rotate(309.98) scale(0.88,1)" text-anchor="end" dy="0.29em">300</text>
<text transform="translate(217.47,812.66) rotate(312.10) scale(0.88,1)" text-anchor="end" dy="0.29em">400</text>
<text transform="translate(206.11,802.00) rotate(314.22) scale(0.88,1)" text-anchor="end" dy="0.29em">500</text>
<text transform="translate(195.15,790.94) rotate(316.34) scale(0.88,1)" text-anchor="end" dy="0.29em">600</text>
<text transform="translate(184.60,779.47) rotate(318.46) scale(0.88,1)" text-anchor="end" dy="0.29em">700</text>
<text transform="translate(174.49,767.62) rotate(320.57) scale(0.88,1)" text-anchor="end" dy="0.29em">800</text>
<text transform="translate(164.82,755.41) rotate(322.69) scale(0.88,1)" text-anchor="end" dy="0.29em">900</text>
<text transform="translate(155.61,742.85) rotate(324.81) scale(0.88,1)" text-anchor="end" dy="0.29em">1000</text>
<text transform="translate(146.87,729.95) rotate(326.93) scale(0.88,1)" text-anchor="end" dy="0.29em">1100</text>
<text transform="translate(138.62,716.75) rotate(329.05) scale(0.88,1)" text-anchor="end" dy="0.29em">1200</text>
<text transform="translate(130.85,703.24) rotate(331.16) scale(0.88,1)" text-anchor="end" dy="0.29em">1300</text>
<text transform="translate(123.59,689.46) rotate(333.28) scale(0.88,1)" text-anchor="end" dy="0.29em">1400</text>
<text transform="translate(116.85,675.42) rotate(335.40) scale(0.88,1)" text-anchor="end" dy="0.29em">1500</text>
<text transform="translate(110.63,661.14) rotate(337.52) scale(0.88,1)" text-anchor="end" dy="0.29em">1600</text>
<text transform="translate(104.94,646.64) rotate(339.64) scale(0.88,1)" text-anchor="end" dy="0.29em">1700</text>
<text transform="translate(99.79,631.94) rotate(341.75) scale(0.88,1)" text-anchor="end" dy="0.29em">1800</text>
<text transform="translate(89.21,593.95) rotate(347.12) scale(0.88,1)" text-anchor="end" dy="0.29em">100</text>
<text transform="translate(86.01,578.70) rotate(349.24) scale(0.88,1)" text-anchor="end" dy="0.29em">200</text>
<text transform="translate(81.13,546.11) rotate(353.72) scale(0.88,1)" text-anchor="end" dy="0.29em">100</text>
<text transform="translate(79.71,530.60) rotate(355.84) scale(0.88,1)" text-anchor="end" dy="0.29em">200</text>
<text transform="translate(78.87,515.04) rotate(357.95) scale(0.88,1)" text-anchor="end" dy="0.29em">300</text>
<text transform="translate(78.60,499.47) rotate(360.07) scale(0.88,1)" text-anchor="end" dy="0.29em">400</text>
<text transform="translate(78.91,483.90) rotate(362.19) scale(0.88,1)" text-anchor="end" dy="0.29em">500</text>
<text transform="translate(79.79,468.35) rotate(364.31) scale(0.88,1)" text-anchor="end" dy="0.29em">600</text>
<text transform="translate(81.25,452.84) rotate(366.43) scale(0.88,1)" text-anchor="end" dy="0.29em">700</text>
<text transform="translate(83.28,437.39) rotate(368.54) scale(0.88,1)" text-anchor="end" dy="0.29em">800</text>
<text transform="translate(85.88,422.03) rotate(370.66) scale(0.88,1)" text-anchor="end" dy="0.29em">900</text>
<text transform="translate(89.04,406.78) rotate(372.78) scale(0.88,1)" text-anchor="end" dy="0.29em">1000</text>
<text transform="translate(92.77,391.66) rotate(374.90) scale(0.88,1)" text-anchor="end" dy="0.29em">1100</text>
<text transform="translate(97.05,376.68) rotate(377.02) scale(0.88,1)" text-anchor="end" dy="0.29em">1200</text>
<text transform="translate(101.88,361.87) rotate(379.13) scale(0.88,1)" text-anchor="end" dy="0.29em">1300</text>
<text transform="translate(107.26,347.25) rotate(381.25) scale(0.88,1)" text-anchor="end" dy="0.29em">1400</text>
<text transform="translate(113.17,332.84) rotate(383.37) scale(0.88,1)" text-anchor="end" dy="0.29em">1500</text>
<text transform="translate(129.20,299.78) rotate(388.37) scale(0.88,1)" text-anchor="end" dy="0.29em">100</text>
<text transform="translate(145.46,272.23) rotate(392.72) scale(0.88,1)" text-anchor="end" dy="0.29em">100</text>
<text transform="translate(154.12,259.28) rotate(394.84) scale(0.88,1)" text-anchor="end" dy="0.29em">200</text>
<text transform="translate(163.25,246.67) rotate(396.95) scale(0.88,1)" text-anchor="end" dy="0.29em">300</text>
<text transform="translate(172.84,234.39) rotate(399.07) scale(0.88,1)" text-anchor="end" dy="0.29em">400</text>
<text transform="translate(182.88,222.48) rotate(401.19) scale(0.88,1)" text-anchor="end" dy="0.29em">500</text>
<text transform="translate(193.36,210.95) rotate(403.31) scale(0.88,1)" text-anchor="end" dy="0.29em">600</text>
<text transform="translate(204.25,199.82) rotate(405.43) scale(0.88,1)" text-anchor="end" dy="0.29em">700</text>
<text transform="translate(215.54,189.09) rotate(407.54) scale(0.88,1)" text-anchor="end" dy="0.29em">800</text>
<text transform="translate(227.23,178.79) rotate(409.66) scale(0.88,1)" text-anchor="end" dy="0.29em">900</text>
<text transform="translate(239.29,168.93) rotate(411.78) scale(0.88,1)" text-anchor="end" dy="0.29em">1000</text>
<text transform="translate(251.70,159.52) rotate(413.90) scale(0.88,1)" text-anchor="end" dy="0.29em">1100</text>
<text transform="translate(264.45,150.58) rotate(416.02) scale(0.88,1)" text-anchor="end" dy="0.29em">1200</text>
<text transform="translate(277.53,142.11) rotate(418.13) scale(0.88,1)" text-anchor="end" dy="0.29em">1300</text>
<text transform="translate(290.91,134.13) rotate(420.25) scale(0.88,1)" text-anchor="end" dy="0.29em">1400</text>
<text transform="translate(304.57,126.66) rotate(422.37) scale(0.88,1)" text-anchor="end" dy="0.29em">1500</text>
<text transform="translate(318.50,119.69) rotate(424.49) scale(0.88,1)" text-anchor="end" dy="0.29em">1600</text>
<text transform="translate(351.03,105.81) rotate(429.30) scale(0.88,1)" text-anchor="end" dy="0.29em">100</text>
<text transform="translate(365.70,100.57) rotate(431.42) scale(0.88,1)" text-anchor="end" dy="0.29em">200</text>
<text transform="translate(380.56,95.88) rotate(433.53) scale(0.88,1)" text-anchor="end" dy="0.29em">300</text>
<text transform="translate(395.57,91.74) rotate(435.65) scale(0.88,1)" text-anchor="end" dy="0.29em">400</text>
<text transform="translate(410.73,88.16) rotate(437.77) scale(0.88,1)" text-anchor="end" dy="0.29em">500</text>
<text transform="translate(450.02,81.57) rotate(443.19) scale(0.88,1)" text-anchor="end" dy="0.29em">100</text>
<text transform="translate(465.52,80.01) rotate(445.31) scale(0.88,1)" text-anchor="end" dy="0.29em">200</text>
<text transform="translate(481.06,79.03) rotate(447.42) scale(0.88,1)" text-anchor="end" dy="0.29em">300</text>
</g>
<g class="il">
<text transform="translate(500.81,36.40) rotate(0.10)" text-anchor="middle" dy="0.35em" textLength="59.5" lengthAdjust="spacingAndGlyphs">hempice_3585</text>
<text transform="translate(727.39,100.13) rotate(29.62)" text-anchor="middle" dy="0.35em">TcDm25_Chr30_H2_c1</text>
<text transform="translate(935.65,352.33) rotate(71.28)" text-anchor="middle" dy="0.35em">TcDm25_Chr12_H1</text>
<text transform="translate(928.02,668.52) rotate(-68.51)" text-anchor="middle" dy="0.35em">TcDm25_Chr30_H1_c1</text>
<text transform="translate(758.09,880.77) rotate(-34.13)" text-anchor="middle" dy="0.35em">TcDm25_Chr12_H2_c1</text>
<text transform="translate(628.14,941.79) rotate(-16.18)" text-anchor="middle" dy="0.35em">TcDm25_Chr19_H1</text>
<text transform="translate(518.26,959.64) rotate(-2.27)" text-anchor="middle" dy="0.35em">TcDm25_Chr19_H2_c1</text>
<text transform="translate(463.31,958.53) rotate(4.57)" text-anchor="middle" dy="0.35em">TcDm25_Chr13_H2_c2</text>
<text transform="translate(337.21,930.23) rotate(20.72)" text-anchor="middle" dy="0.35em">TcDm25_Chr11_H1_c1</text>
<text transform="translate(130.25,773.65) rotate(53.50)" text-anchor="middle" dy="0.35em">TcDm25_Chr32_H1</text>
<text transform="translate(50.95,599.76) rotate(77.48)" text-anchor="middle" dy="0.35em">TcDm25_Chr11_H2_c2</text>
<text transform="translate(44.53,435.58) rotate(278.05)" text-anchor="middle" dy="0.35em">TcDm25_Chr06_H2_c2</text>
<text transform="translate(92.07,287.42) rotate(297.52)" text-anchor="middle" dy="0.35em">TcDm25_Chr06_H2_c1</text>
<text transform="translate(192.35,158.02) rotate(318.02)" text-anchor="middle" dy="0.35em">TcDm25_Chr06_H1</text>
<text transform="translate(367.74,59.42) rotate(343.29)" text-anchor="middle" dy="0.35em">TcDm25_Chr32_H2_c2</text>
<text transform="translate(457.59,41.96) rotate(354.71)" text-anchor="middle" dy="0.35em">TcDm25_Chr16_H2_c1</text>
</g>
</svg>
</body></html>
